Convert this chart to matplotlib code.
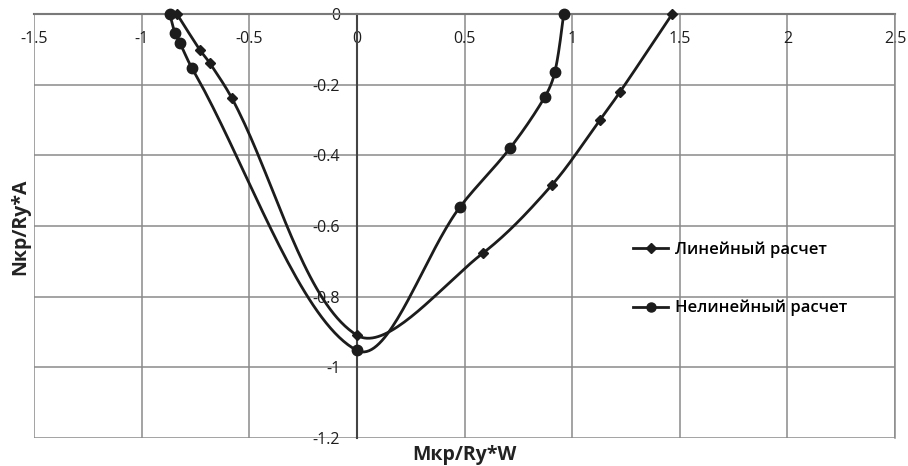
#!/usr/bin/env python3
"""
Interaction curve Nkr/Ry*A vs Mkr/Ry*W: linear vs nonlinear calculation.
Recreates an Excel-style scatter chart with smoothed lines.
"""

import numpy as np
import matplotlib
matplotlib.use("Agg")
import matplotlib.pyplot as plt

# ========================
# Data
# ========================
LINEAR_X = [-0.836, -0.729, -0.683, -0.581, 0.0, 0.585, 0.906, 1.129, 1.222, 1.465]
LINEAR_Y = [0.0, -0.102, -0.139, -0.238, -0.909, -0.677, -0.484, -0.300, -0.221, 0.0]

NONLINEAR_X = [-0.869, -0.845, -0.822, -0.766, 0.0, 0.478, 0.711, 0.873, 0.920, 0.961]
NONLINEAR_Y = [0.0, -0.054, -0.082, -0.153, -0.952, -0.547, -0.380, -0.235, -0.164, 0.0]

LABELS = ["Линейный расчет", "Нелинейный расчет"]
X_TICKS = [-1.5, -1, -0.5, 0, 0.5, 1, 1.5, 2, 2.5]
Y_TICKS = [0, -0.2, -0.4, -0.6, -0.8, -1, -1.2]

FONT = ["Open Sans", "DejaVu Sans"]
LINE_COLOR = "#1c1c1c"
GRID_COLOR = "#8a8a8a"

# y is stretched more than x on screen; spline in roughly screen-like space
Y_ASPECT = 1.64


def smooth(xs, ys, steps=40):
    """Smoothed line through the markers (chord-weighted Bezier, Excel-like)."""
    p = np.column_stack([xs, np.array(ys) * Y_ASPECT])
    p = np.vstack([p[0], p, p[-1]])
    out = []
    for i in range(1, len(p) - 2):
        p0, p1, p2, p3 = p[i - 1], p[i], p[i + 1], p[i + 2]
        d01 = np.linalg.norm(p1 - p0)
        d12 = np.linalg.norm(p2 - p1)
        d23 = np.linalg.norm(p3 - p2)
        w1 = d12 / (d01 + d12) / 3.0 if d01 > 0 else 1 / 6.0
        w2 = d12 / (d12 + d23) / 3.0 if d23 > 0 else 1 / 6.0
        c1 = p1 + (p2 - p0) * w1
        c2 = p2 - (p3 - p1) * w2
        t = np.linspace(0, 1, steps)[:, None]
        seg = ((1 - t) ** 3) * p1 + 3 * ((1 - t) ** 2) * t * c1 \
            + 3 * (1 - t) * t ** 2 * c2 + t ** 3 * p2
        out.append(seg)
    out = np.vstack(out)
    return out[:, 0], out[:, 1] / Y_ASPECT


def fmt(v):
    return ("%g" % v)


def main():
    fig = plt.figure(figsize=(9.08, 4.66), dpi=100)
    ax = fig.add_axes([34 / 908, 1 - 438 / 466, (895 - 34) / 908, (438 - 14) / 466])

    ax.set_xlim(-1.5, 2.5)
    ax.set_ylim(-1.2, 0)

    # grid
    ax.set_xticks(X_TICKS)
    ax.set_yticks(Y_TICKS)
    ax.grid(True, color=GRID_COLOR, linewidth=1.1)
    ax.set_axisbelow(True)

    # axes through zero
    for side in ["right", "top"]:
        ax.spines[side].set_color(GRID_COLOR)
        ax.spines[side].set_linewidth(1.1)
    ax.spines["left"].set_position(("data", 0))
    ax.spines["bottom"].set_position(("data", 0))
    ax.spines["left"].set_color("#444444")
    ax.spines["bottom"].set_color("#444444")
    ax.spines["left"].set_linewidth(1.5)
    ax.spines["bottom"].set_linewidth(1.5)
    ax.spines["bottom"].set_zorder(1)

    ax.set_xticklabels([fmt(v) for v in X_TICKS])
    ax.set_yticklabels([fmt(v) for v in Y_TICKS])
    ax.tick_params(axis="both", length=0, labelsize=11.5, labelcolor="#1e1e1e")
    ax.tick_params(axis="x", pad=12)
    ax.tick_params(axis="y", pad=12)
    for lab in ax.get_xticklabels() + ax.get_yticklabels():
        lab.set_family(FONT)

    # series
    sx, sy = smooth(LINEAR_X, LINEAR_Y)
    ax.plot(sx, sy, color=LINE_COLOR, linewidth=2.0, zorder=3, clip_on=False)
    ax.plot(LINEAR_X, LINEAR_Y, linestyle="none", marker="D", markersize=5.5,
            color=LINE_COLOR, zorder=4, clip_on=False)

    sx, sy = smooth(NONLINEAR_X, NONLINEAR_Y)
    ax.plot(sx, sy, color=LINE_COLOR, linewidth=2.0, zorder=3, clip_on=False)
    ax.plot(NONLINEAR_X, NONLINEAR_Y, linestyle="none", marker="o", markersize=7.5,
            color=LINE_COLOR, zorder=4, clip_on=False)

    # legend handles
    h1, = ax.plot([], [], color=LINE_COLOR, linewidth=2.0, marker="D", markersize=5)
    h2, = ax.plot([], [], color=LINE_COLOR, linewidth=2.0, marker="o", markersize=6.5)
    fig.legend([h1, h2], LABELS, loc="upper left",
               bbox_to_anchor=(633 / 908, 1 - 241 / 466), frameon=False,
               prop={"family": FONT, "size": 12, "weight": "semibold"},
               handlelength=2.1, handletextpad=0.4, labelspacing=2.55,
               borderaxespad=0, borderpad=0)

    # axis titles
    fig.text(464 / 908, 1 - 455 / 466, "Mкр/Ry*W", ha="center", va="center",
             family=FONT, fontsize=14, fontweight="bold", color="#222222")
    fig.text(20 / 908, 1 - 227 / 466, "Nкр/Ry*A", ha="center", va="center",
             rotation=90, family=FONT, fontsize=14, fontweight="bold", color="#222222")

    fig.savefig("out.png", dpi=100)


if __name__ == "__main__":
    main()
